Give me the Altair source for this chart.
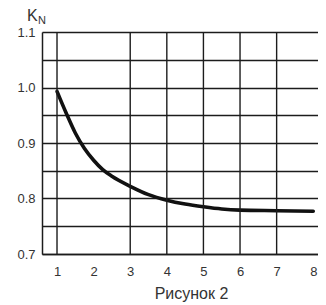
import altair as alt
import pandas as pd

# curve values
x_vals = [1.0, 1.25, 1.5, 1.75, 2.0, 2.25, 2.5, 3.0, 3.5, 4.0, 4.5, 5.0, 5.5, 6.0, 7.0, 8.0]
kn_vals = [0.993, 0.954, 0.918, 0.890, 0.869, 0.852, 0.840, 0.822, 0.807, 0.797, 0.790, 0.785, 0.781, 0.779, 0.778, 0.777]

x_ticks = [1, 2, 3, 4, 5, 6, 7, 8]
y_ticks = [0.7, 0.75, 0.8, 0.85, 0.9, 0.95, 1.0, 1.05, 1.1]
v_grid = [1, 3, 4, 5, 6, 7]

curve = pd.DataFrame({"x": x_vals, "k": kn_vals})
vgrid = pd.DataFrame({"x": v_grid})

FONT = "Liberation Sans"
DARK = "#1c1c1c"
TXT = "#333333"

xscale = alt.Scale(domain=[0.59, 8.13], nice=False, zero=False)
yscale = alt.Scale(domain=[0.7, 1.1], nice=False, zero=False)

x_axis = alt.Axis(values=x_ticks, grid=False, ticks=False, domain=True,
                  domainColor=DARK, domainWidth=1.5, labelOverlap=False,
                  labelFont=FONT, labelFontSize=13, labelColor=TXT, labelPadding=11,
                  title="Рисунок 2", titleFont=FONT, titleFontSize=16, titleFontWeight="normal",
                  titleColor=TXT, titleX=149, titleY=44, titleAlign="center",
                  titleBaseline="alphabetic")

line = alt.Chart(curve).mark_line(
    color="#111111", strokeWidth=3.6, strokeCap="round", interpolate="monotone"
).encode(
    x=alt.X("x:Q", scale=xscale, axis=x_axis),
    y=alt.Y("k:Q", scale=yscale,
            axis=alt.Axis(values=y_ticks, grid=True, gridColor=DARK, gridWidth=1.4, gridOpacity=1,
                          ticks=False, domain=True, domainColor=DARK, domainWidth=1.5,
                          labelOverlap=False,
                          labelFont=FONT, labelFontSize=13, labelColor=TXT, labelPadding=7,
                          labelExpr="(round(datum.value*100) % 10 == 0) ? format(datum.value, '.1f') : ''",
                          title=None)),
)

rules = alt.Chart(vgrid).mark_rule(color=DARK, strokeWidth=1.4).encode(
    x=alt.X("x:Q", scale=xscale, axis=x_axis)
)

k_text = alt.Chart(pd.DataFrame({"t": ["K"]})).mark_text(
    font=FONT, fontSize=16, color=TXT, align="left", baseline="alphabetic"
).encode(x=alt.value(-15), y=alt.value(-11), text="t:N")

n_text = alt.Chart(pd.DataFrame({"t": ["N"]})).mark_text(
    font=FONT, fontSize=11, color=TXT, align="left", baseline="alphabetic"
).encode(x=alt.value(-4), y=alt.value(-8), text="t:N")

chart = alt.layer(line, rules, k_text, n_text).properties(
    width=276, height=222,
    autosize=alt.AutoSizeParams(type="none"),
    padding={"left": 34, "top": 24, "right": 0, "bottom": 50},
).configure_view(stroke=None).configure(background="white")

chart.save("out.html", embed_options={"renderer": "svg", "actions": False})
